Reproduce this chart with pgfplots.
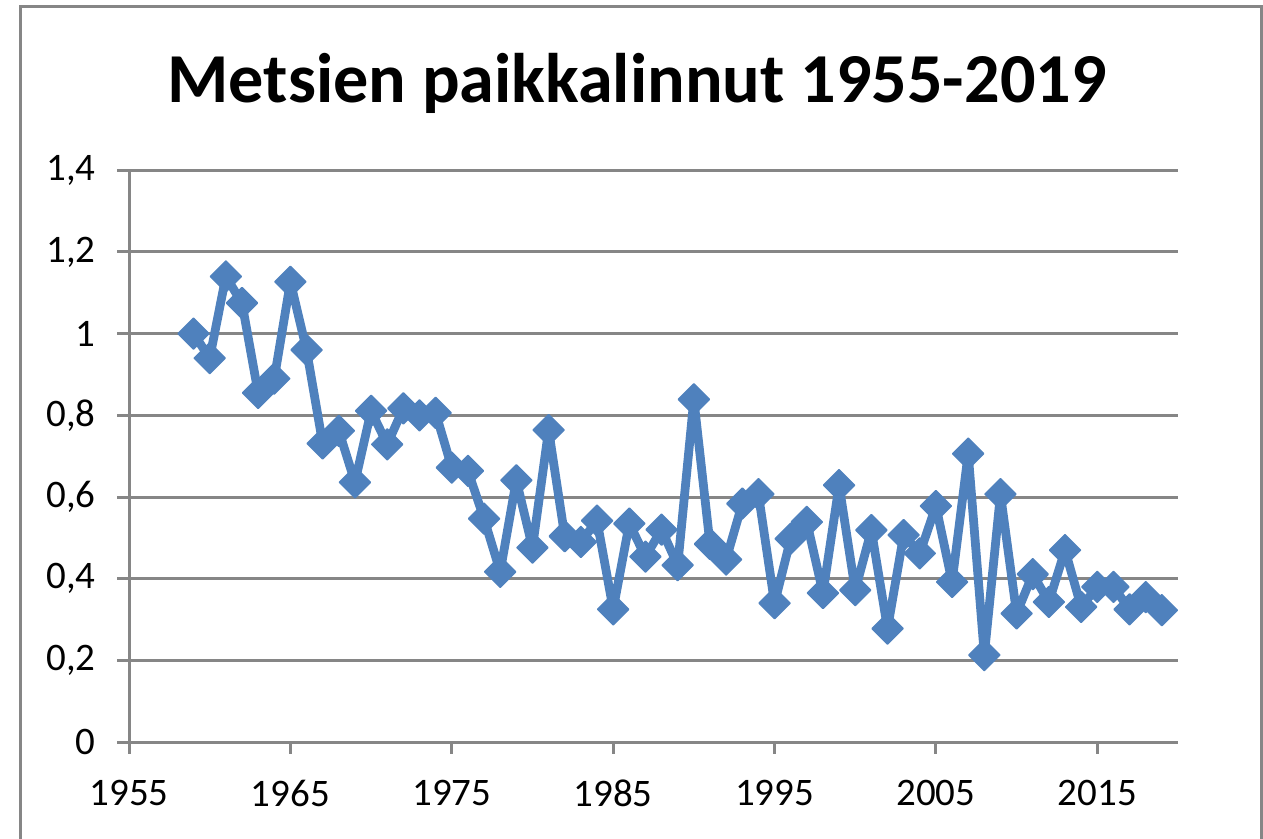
\documentclass[border=0pt]{standalone}
\usepackage{pgfplots}
\pgfplotsset{compat=1.18}
\usepackage{fontspec}
\setmainfont{Carlito}
\definecolor{gridc}{HTML}{868686}
\definecolor{ser}{HTML}{4F81BD}
\pgfplotstableread{
year val
1959 1.00
1960 0.94
1961 1.14
1962 1.075
1963 0.855
1964 0.89
1965 1.127
1966 0.96
1967 0.731
1968 0.762
1969 0.636
1970 0.811
1971 0.729
1972 0.817
1973 0.80
1974 0.806
1975 0.672
1976 0.664
1977 0.547
1978 0.417
1979 0.641
1980 0.476
1981 0.764
1982 0.504
1983 0.49
1984 0.542
1985 0.325
1986 0.535
1987 0.454
1988 0.52
1989 0.433
1990 0.839
1991 0.485
1992 0.447
1993 0.584
1994 0.607
1995 0.34
1996 0.498
1997 0.539
1998 0.365
1999 0.629
2000 0.372
2001 0.519
2002 0.278
2003 0.507
2004 0.462
2005 0.578
2006 0.392
2007 0.706
2008 0.213
2009 0.607
2010 0.315
2011 0.411
2012 0.343
2013 0.47
2014 0.331
2015 0.38
2016 0.38
2017 0.325
2018 0.355
2019 0.323
}\datatable
\begin{document}
\begin{tikzpicture}
\useasboundingbox (0,0) rectangle (324pt,215pt);
\draw[gridc, line width=0.77pt] (5.26pt,-5pt) -- (5.26pt,213.3pt) -- (323.5pt,213.3pt) -- (323.5pt,-5pt);
\node[anchor=base, inner sep=0pt, font=\bfseries\fontsize{18}{21}\selectfont] at (163.4pt,188.6pt) {Metsien paikkalinnut 1955-2019};
\begin{axis}[
  at={(33.1pt,24.63pt)}, anchor=south west,
  scale only axis, width=269.1pt, height=146.7pt,
  xmin=1955, xmax=2020, ymin=0, ymax=1.4,
  xtick={1955,1965,1975,1985,1995,2005,2015},
  ytick={0,0.2,0.4,0.6,0.8,1.0,1.2,1.4},
  axis lines=left,
  axis line style={gridc, line width=0.77pt, -},
  ymajorgrids, grid style={gridc, line width=0.77pt},
  tick align=outside, major tick length=3pt,
  tick style={gridc, line width=0.77pt},
  font=\fontsize{10}{12}\selectfont,
  /pgf/number format/assume math mode=true,
  xticklabel style={/pgf/number format/1000 sep={}, anchor=north, inner sep=0pt, yshift=-6.5pt},
  yticklabel style={/pgf/number format/fixed, /pgf/number format/use comma, /pgf/number format/precision=1, anchor=east, inner sep=0pt, xshift=-5.4pt},
  clip=false,
]
\addplot[color=ser, line width=2.25pt, line join=round, mark=square*, mark size=2.8pt,
  mark options={rotate=45, solid, line width=0.4pt, fill=ser, draw=ser}] table[x=year, y=val] {\datatable};
\end{axis}
\end{tikzpicture}
\end{document}
